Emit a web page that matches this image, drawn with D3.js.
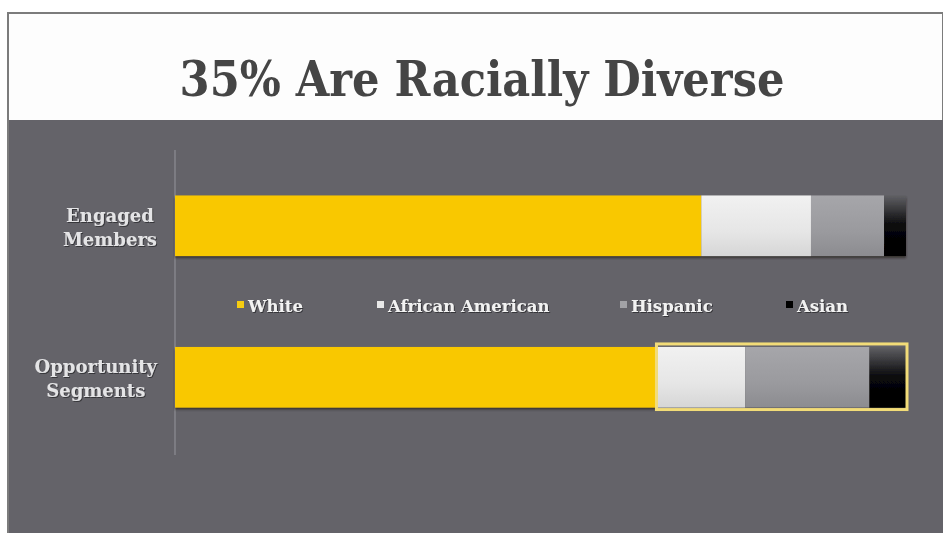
<!DOCTYPE html>
<html>
<head>
<meta charset="utf-8">
<script src="https://cdn.jsdelivr.net/npm/d3@7"></script>
<style>
  html, body { margin: 0; padding: 0; background: #ffffff; }
  svg { display: block; }
</style>
</head>
<body>
<svg id="chart" width="943" height="533"></svg>
<script>
// Racial make-up of two audience groups, in percent of each group
const categories = ["Engaged Members", "Opportunity Segments"];
const categoryLines = [["Engaged", "Members"], ["Opportunity", "Segments"]];
const seriesNames = ["White", "African American", "Hispanic", "Asian"];
const white           = [72, 66];
const africanAmerican = [15, 12];
const hispanic        = [10, 17];
const asian           = [3, 5];
const titleText = "35% Are Racially Diverse";
const highlightedCategory = "Opportunity Segments";

const W = 943, H = 533;
const TITLE_FONT = "'DejaVu Serif Condensed', 'DejaVu Serif', serif";
const FONT = "'DejaVu Serif', serif";
const svg = d3.select("#chart");
const defs = svg.append("defs");

// Segment fills: flat yellow, then soft vertical gradients for the grey tones
function vGrad(id, stops) {
  const g = defs.append("linearGradient").attr("id", id)
    .attr("x1", 0).attr("y1", 0).attr("x2", 0).attr("y2", 1);
  stops.forEach(([o, c]) => g.append("stop").attr("offset", o).attr("stop-color", c));
}
vGrad("gAA",   [[0, "#f1f1f1"], [0.6, "#e6e6e6"], [1, "#d6d6d6"]]);
vGrad("gHisp", [[0, "#a6a6aa"], [0.6, "#9a9a9e"], [1, "#8c8c90"]]);
vGrad("gAsian",[[0, "#606064"], [0.5, "#08080a"], [1, "#000000"]]);
const fills = ["#f9c800", "url(#gAA)", "url(#gHisp)", "url(#gAsian)"];
const legendFills = ["#f6cc10", "#e8e8e8", "#a2a2a6", "#000000"];

const shadow = defs.append("filter").attr("id", "barShadow")
  .attr("x", "-5%").attr("y", "-20%").attr("width", "110%").attr("height", "150%");
shadow.append("feDropShadow").attr("dx", 0).attr("dy", 2).attr("stdDeviation", 0.8)
  .attr("flood-color", "#2a2520").attr("flood-opacity", 0.8);

const textShadow = defs.append("filter").attr("id", "txtShadow")
  .attr("x", "-10%").attr("y", "-20%").attr("width", "120%").attr("height", "150%");
textShadow.append("feDropShadow").attr("dx", 1).attr("dy", 1).attr("stdDeviation", 0.6)
  .attr("flood-color", "#303034").attr("flood-opacity", 0.9);

// Slide frame: white title band over a dark grey panel
svg.append("rect").attr("x", 0).attr("y", 0).attr("width", W).attr("height", H).attr("fill", "#ffffff");
svg.append("rect").attr("x", 8).attr("y", 13).attr("width", W - 8).attr("height", H - 13)
  .attr("fill", "#fdfdfd").attr("stroke", "#7c7c7c").attr("stroke-width", 2);
svg.append("rect").attr("x", 9).attr("y", 120).attr("width", W - 9).attr("height", H - 120)
  .attr("fill", "#646369");

// Title, fitted to its measured width
const title = svg.append("text")
  .attr("x", 482).attr("y", 96)
  .attr("text-anchor", "middle")
  .attr("font-family", TITLE_FONT)
  .attr("font-weight", "bold")
  .attr("font-size", 40)
  .attr("fill", "#454545")
  .text(titleText);
const tw = title.node().getComputedTextLength();
title.attr("font-size", 40 * 605 / tw);

// Stack the series per category
const rows = categories.map((c, i) => ({
  category: c,
  "White": white[i],
  "African American": africanAmerican[i],
  "Hispanic": hispanic[i],
  "Asian": asian[i]
}));
const stacked = d3.stack().keys(seriesNames)(rows);

const x = d3.scaleLinear().domain([0, 100]).range([175, 906]);
const y = d3.scaleBand().domain(categories).range([150, 453])
  .paddingInner(0.6).paddingOuter(0.3);

// Category axis line
svg.append("line")
  .attr("x1", 175).attr("x2", 175).attr("y1", 150).attr("y2", 455)
  .attr("stroke", "#8e8e94").attr("stroke-width", 1.2);

// Bars
const bars = svg.append("g").attr("filter", "url(#barShadow)");
stacked.forEach((layer, si) => {
  bars.selectAll(null).data(layer).enter().append("rect")
    .attr("x", d => x(d[0]))
    .attr("width", d => x(d[1]) - x(d[0]))
    .attr("y", d => y(d.data.category))
    .attr("height", y.bandwidth())
    .attr("fill", fills[si]);
});

// Outline around the non-white share of the highlighted group
const hi = rows.find(r => r.category === highlightedCategory);
svg.append("rect")
  .attr("x", x(hi["White"]) - 1)
  .attr("width", x(100) - x(hi["White"]) + 2)
  .attr("y", y(highlightedCategory) - 3)
  .attr("height", y.bandwidth() + 5)
  .attr("fill", "none")
  .attr("stroke", "#f2dc78")
  .attr("stroke-width", 3);

// Category labels: each two-line block right-aligned to the axis, lines centred
const labelRight = 157;
categories.forEach((c, i) => {
  const cy = y(c) + y.bandwidth() / 2;
  const g = svg.append("g");
  const texts = categoryLines[i].map((line, li) => g.append("text")
    .attr("text-anchor", "middle")
    .attr("font-family", FONT)
    .attr("font-weight", "bold")
    .attr("font-size", 18)
    .attr("fill", "#e4e4e6")
    .attr("filter", "url(#txtShadow)")
    .attr("y", cy - 4 + li * 24)
    .text(line));
  const maxW = d3.max(texts, t => t.node().getComputedTextLength());
  texts.forEach(t => t.attr("x", labelRight - maxW / 2));
});

// Legend between the two bars
const legendX = [237, 377, 620, 786];
const legendY = 312;
const legend = svg.append("g");
seriesNames.forEach((name, i) => {
  legend.append("rect")
    .attr("x", legendX[i]).attr("y", legendY - 11)
    .attr("width", 7).attr("height", 7)
    .attr("fill", legendFills[i]);
  legend.append("text")
    .attr("x", legendX[i] + 11).attr("y", legendY)
    .attr("font-family", FONT)
    .attr("font-weight", "bold")
    .attr("font-size", 16.5)
    .attr("fill", "#f2f2f2")
    .attr("filter", "url(#txtShadow)")
    .text(name);
});
</script>
</body>
</html>
